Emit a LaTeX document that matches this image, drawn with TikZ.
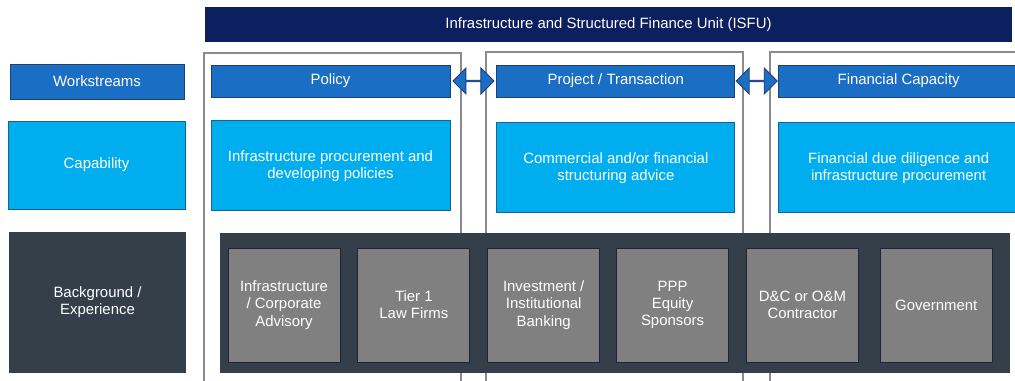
\documentclass[tikz,border=0pt]{standalone}
\usepackage{fontspec}
\setmainfont{Liberation Sans}
\usetikzlibrary{positioning}
\usetikzlibrary{calc}
\usetikzlibrary{shapes.arrows}

\definecolor{isfunavy}{HTML}{0C1F5E}
\definecolor{wsblue}{HTML}{1A6FC4}
\definecolor{wsedge}{HTML}{1F3F6E}
\definecolor{capcyan}{HTML}{00AEEF}
\definecolor{capedge}{HTML}{1D5F8F}
\definecolor{slate}{HTML}{343F49}
\definecolor{expgrey}{HTML}{808080}
\definecolor{expedge}{HTML}{1E2440}
\definecolor{framegrey}{HTML}{8A8A95}

\tikzset{
  txt/.style={font=\fontsize{8.5}{9.8}\selectfont, text=white, align=center, inner sep=0pt},
  banner/.style={txt, fill=isfunavy},
  wsbox/.style={txt, fill=wsblue, draw=wsedge, line width=0.5pt},
  capbox/.style={txt, fill=capcyan, draw=capedge, line width=0.4pt},
  slatebox/.style={txt, fill=slate},
  expbox/.style={txt, fill=expgrey, draw=expedge, line width=0.5pt,
    minimum width=2.24cm, minimum height=2.28cm},
  colframe/.style={draw=framegrey, line width=0.6pt},
  biarrow/.style={double arrow, fill=wsblue, draw=wsedge, line width=0.5pt,
    inner sep=0pt, minimum height=0.82cm, minimum width=0.52cm,
    double arrow head extend=0.14cm},
}

\begin{document}
\begin{tikzpicture}[x=0.02cm, y=-0.02cm]
    \useasboundingbox (0,0) rectangle (1015,381);
    % column frames
    \draw[colframe] (204,53) rectangle (461,400);
    \draw[colframe] (486,52) rectangle (743,400);
    \draw[colframe] (770,52) rectangle (1040,400);

    \node[banner, minimum width=16.14cm, minimum height=0.7cm] (isfu) at (608.5,24.5)
      {Infrastructure and Structured Finance Unit (ISFU)};

    % row labels
    \node[wsbox, minimum width=3.48cm, minimum height=0.7cm] (lblWork) at (97,81.5) {Workstreams};
    \node[capbox, minimum width=3.54cm, minimum height=1.76cm] (lblCap) at (96.5,165) {Capability};
    \node[slatebox, minimum width=3.54cm, minimum height=2.82cm] (lblBack) at (97.5,302.5)
      {Background /\\Experience};

    % workstreams
    \node[wsbox, minimum width=4.78cm, minimum height=0.64cm] (wsPolicy) at (330.5,81) {Policy};
    \node[wsbox, minimum width=4.76cm, minimum height=0.64cm, right=0.92cm of wsPolicy] (wsProject)
      {Project / Transaction};
    \node[wsbox, minimum width=4.8cm, minimum height=0.64cm, right=0.86cm of wsProject] (wsFinance)
      {Financial Capacity};

    \node[biarrow] (arrA) at ($(wsPolicy.east)!0.5!(wsProject.west)$) {};
    \node[biarrow] (arrB) at ($(wsProject.east)!0.5!(wsFinance.west)$) {};

    % capabilities
    \node[capbox, minimum width=4.78cm, minimum height=1.8cm, below=0.46cm of wsPolicy] (capPolicy)
      {Infrastructure procurement and\\developing policies};
    \node[capbox, minimum width=4.76cm, minimum height=1.8cm, below=0.5cm of wsProject] (capProject)
      {Commercial and/or financial\\structuring advice};
    \node[capbox, minimum width=4.8cm, minimum height=1.8cm, below=0.5cm of wsFinance] (capFinance)
      {Financial due diligence and\\infrastructure procurement};

    % background / experience
    \node[slatebox, minimum width=15.8cm, minimum height=2.8cm] (panel) at (615,303) {};
    \node[expbox] (expInfra) at (284,305) {Infrastructure\\/ Corporate\\Advisory};
    \node[expbox, right=0.34cm of expInfra] (expLaw) {Tier 1\\Law Firms};
    \node[expbox, right=0.34cm of expLaw] (expBank) {Investment /\\Institutional\\Banking};
    \node[expbox, right=0.32cm of expBank] (expPPP) {PPP\\Equity\\Sponsors};
    \node[expbox, right=0.34cm of expPPP] (expDC) {D\&C or O\&M\\Contractor};
    \node[expbox, right=0.42cm of expDC] (expGov) {Government};
\end{tikzpicture}
\end{document}
